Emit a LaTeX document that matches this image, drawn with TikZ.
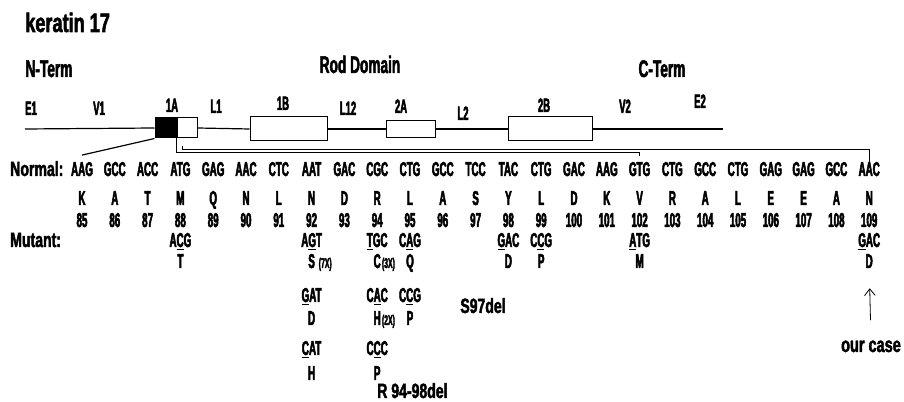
\documentclass[tikz,border=0pt]{standalone}
\usepackage{fontspec}
\newfontfamily\seqfont{Liberation Sans}[FakeStretch=0.49, FakeBold=2.5]
\newfontfamily\wordfont{Liberation Sans}[FakeStretch=0.68, FakeBold=2]
\newfontfamily\headfont{Liberation Sans}[FakeStretch=0.57, FakeBold=2]
\usepackage{tikz}
\usetikzlibrary{
  arrows.meta,
  positioning,
}
\newcommand{\mutbase}[1]{\underline{#1}}

\begin{document}
\begin{tikzpicture}[
  x=0.75pt, y=-0.75pt,
  seq/.style={
    font=\seqfont\bfseries\fontsize{15}{15}\selectfont,
    inner sep=0pt,
    anchor=base,
  },
  lbl/.style={
    seq,
    font=\seqfont\bfseries\fontsize{14.5}{14.5}\selectfont,
  },
  word/.style={
    font=\wordfont\bfseries\fontsize{15.5}{15.5}\selectfont,
    inner sep=0pt,
    anchor=base,
  },
  head/.style={
    font=\headfont\bfseries\fontsize{18}{18}\selectfont,
    inner sep=0pt,
    anchor=base,
  },
  times/.style={
    font=\seqfont\bfseries\fontsize{10.5}{10.5}\selectfont,
    inner sep=0pt,
    anchor=base west,
  },
  domainbox/.style={
    draw,
    line width=0.75pt,
    fill=white,
    inner sep=0pt,
  },
  backbone/.style={
    line width=0.9pt,
  },
  arr/.style={
    -{Straight Barb[length=5pt, width=8pt]},
    line width=0.6pt,
  },
]
\useasboundingbox (0,0) rectangle (904,402);

% =============================================================================
% Titles
% =============================================================================
\node[word, anchor=base west, font=\wordfont\bfseries\fontsize{20}{20}\selectfont]
  (title) at (25,32) {keratin 17};

\node[head] (nterm) at (49,77) {N-Term};
\node[head] (rod) at (360,73) {Rod Domain};
\node[head] (cterm) at (662,77) {C-Term};

% =============================================================================
% Protein domains
% =============================================================================
\node[lbl] (lblE1) at (31,115) {E1};
\node[lbl] (lblV1) at (99,115) {V1};
\node[lbl] (lbl1A) at (172,112) {1A};
\node[lbl] (lblL1) at (216,113) {L1};
\node[lbl] (lbl1B) at (283,110) {1B};
\node[lbl] (lblL12) at (348,115) {L12};
\node[lbl] (lbl2A) at (401,113) {2A};
\node[lbl] (lblL2) at (463,120) {L2};
\node[lbl] (lbl2B) at (544,112) {2B};
\node[lbl] (lblV2) at (625,113) {V2};
\node[lbl] (lblE2) at (700,108) {E2};

\node[domainbox, fill=black, minimum width=16.5pt, minimum height=15pt] (box1Ablack) at (166,128) {};
\node[domainbox, minimum width=15pt, minimum height=15pt] (box1Awhite) at (187,128) {};
\node[domainbox, minimum width=57.75pt, minimum height=18pt] (box1B) at (288.5,129) {};
\node[domainbox, minimum width=36.75pt, minimum height=12.75pt] (box2A) at (410.5,129) {};
\node[domainbox, minimum width=63pt, minimum height=18pt] (box2B) at (550,129) {};

\coordinate (lineW) at (25,129);
\coordinate (lineE) at (723,129);

\draw[backbone] (lineW) -- (box1Ablack.west);
\draw[backbone] (box1Awhite.east) -- (box1B.west);
\draw[backbone] (box1B.east) -- (box2A.west);
\draw[backbone] (box2A.east) -- (box2B.west);
\draw[backbone] (box2B.east) -- (lineE);

% =============================================================================
% Normal sequence
% =============================================================================
\node[word, anchor=base west] (normal) at (10,176) {Normal:};

\foreach \cod/\res [count=\i from 0] in {
    AAG/K, GCC/A, ACC/T, ATG/M, GAG/Q, AAC/N, CTC/L, AAT/N, GAC/D,
    CGC/R, CTG/L, GCC/A, TCC/S, TAC/Y, CTG/L, GAC/D, AAG/K, GTG/V,
    CTG/R, GCC/A, CTG/L, GAG/E, GAG/E, GCC/A, AAC/N} {
  \pgfmathsetmacro{\xx}{82+32.8*\i}
  \pgfmathtruncatemacro{\num}{85+\i}
  \node[seq] (cod\num) at (\xx,176) {\cod};
  \node[seq] (aa\num) at (\xx,205) {\res};
  \node[seq] (num\num) at (\xx,227) {\num};
}

\draw[backbone] (box1Ablack.south west) -- ([yshift=5pt]cod85.north);
\draw[backbone] (box1Awhite.south west) -- ++(0,14) -| ([yshift=4.5pt]cod102.north);
\draw[backbone] ([xshift=4.5pt, yshift=-5.5pt]box1Awhite.south west) -- ++(0,4) -| (cod109.north);

% =============================================================================
% Mutations
% =============================================================================
\node[word, anchor=base west] (mutant) at (10,247) {Mutant:};

\node[seq] (mut88) at (cod88 |- 0,247) {A\mutbase{C}G};
\node[seq] (mut92) at (cod92 |- 0,247) {A\mutbase{G}T};
\node[seq] (mut94) at (cod94 |- 0,247) {\mutbase{T}GC};
\node[seq] (mut95) at (cod95 |- 0,247) {C\mutbase{A}G};
\node[seq] (mut98) at (cod98 |- 0,247) {\mutbase{G}AC};
\node[seq] (mut99) at (cod99 |- 0,247) {C\mutbase{C}G};
\node[seq] (mut102) at (cod102 |- 0,247) {\mutbase{A}TG};
\node[seq] (mut109) at (cod109 |- 0,247) {\mutbase{G}AC};

\node[seq] (res88) at (cod88 |- 0,268) {T};
\node[seq] (res92) at (cod92 |- 0,268) {S};
\node[times] (times92) at ([xshift=2.5pt]res92.base east) {(7X)};
\node[seq] (res94) at (cod94 |- 0,268) {C};
\node[times] (times94) at ([xshift=0.5pt]res94.base east) {(3X)};
\node[seq] (res95) at (cod95 |- 0,268) {Q};
\node[seq] (res98) at (cod98 |- 0,268) {D};
\node[seq] (res99) at (cod99 |- 0,268) {P};
\node[seq] (res102) at (cod102 |- 0,268) {M};
\node[seq] (res109) at (cod109 |- 0,268) {D};

\node[seq] (mutb92) at (cod92 |- 0,302) {\mutbase{G}AT};
\node[seq] (mutb94) at (cod94 |- 0,302) {C\mutbase{A}C};
\node[seq] (mutb95) at (cod95 |- 0,302) {C\mutbase{C}G};

\node[seq] (resb92) at (cod92 |- 0,325) {D};
\node[seq] (resb94) at (cod94 |- 0,325) {H};
\node[times] (timesb94) at ([xshift=0.5pt]resb94.base east) {(2X)};
\node[seq] (resb95) at (cod95 |- 0,325) {P};

\node[word] (del97) at (483,313) {S97del};

\node[seq] (mutc92) at (cod92 |- 0,355) {\mutbase{C}AT};
\node[seq] (mutc94) at (cod94 |- 0,355) {C\mutbase{C}C};

\node[seq] (resc92) at (cod92 |- 0,380) {H};
\node[seq] (resc94) at (cod94 |- 0,380) {P};

\node[word, anchor=base west] (del94) at (377,398) {R 94-98del};

% our case
\node[word, font=\wordfont\bfseries\fontsize{16}{16}\selectfont] (ourcase) at (871,352) {our case};
\draw[arr, shorten <=15pt, shorten >=15pt] (ourcase.north) -- (res109.south);

\end{tikzpicture}
\end{document}
